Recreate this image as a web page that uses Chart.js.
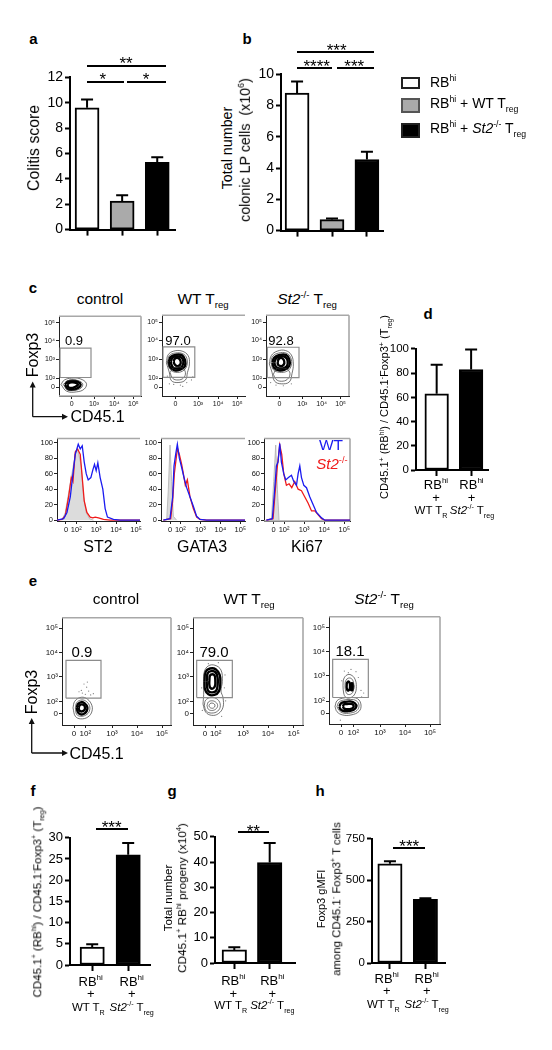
<!DOCTYPE html>
<html><head><meta charset="utf-8">
<style>
html,body{margin:0;padding:0;background:#fff;width:552px;height:1050px;overflow:hidden}
body{position:relative;font-family:"Liberation Sans",Arial,sans-serif;color:#000;filter:blur(.3px)}
canvas{position:absolute;display:block}
.t{position:absolute;white-space:nowrap;line-height:1;transform-origin:center center}
sup,sub{font-size:.62em;line-height:0}
.line{position:absolute;background:#000}
</style>
<script src="https://cdn.jsdelivr.net/npm/chart.js@4"></script>
</head><body>
<script>
// ---------- bar panels ----------
const legendLabels=['RB<sup>hi</sup>','RB<sup>hi</sup> + WT T<sub>reg</sub>','RB<sup>hi</sup> + <i>St2</i><sup>-/-</sup> T<sub>reg</sub>'];
const threeColors=['#ffffff','#aaaaaa','#000000'];
const twoColors=['#ffffff','#000000'];
const aValues=[9.6,2.25,5.3];      const aUpper=[10.25,2.7,5.7];
const bValues=[8.8,0.7,4.55];      const bUpper=[9.55,0.78,5.05];
const dValues=[63,83];             const dUpper=[87,99.5];
const fValues=[4.2,26];            const fUpper=[4.9,28.8];
const gValues=[5.2,39.8];          const gUpper=[6.2,47.5];
const hValues=[600,385];           const hUpper=[615,392];
const aTicks=[0,2,4,6,8,10,12];
const bTicks=[0,2,4,6,8,10];
const dTicks=[0,20,40,60,80,100];
const fTicks=[0,5,10,15,20,25,30];
const gTicks=[0,10,20,30,40,50];
const hTicks=[0,250,500,750];
const pairCategories=[['RB<sup>hi</sup>','+','WT T<sub>R</sub>'],['RB<sup>hi</sup>','+','<i>St2</i><sup>-/-</sup> T<sub>reg</sub>']];

// ---------- flow tick labels ----------
const flowLabelsY=['0','10²','10³','10⁴','10⁵'];
const flowLabelsX3=['0','10³','10⁴','10⁵'];
const flowLabelsX4=['0','10²','10³','10⁴','10⁵'];
const histLabelsY=['0','20','40','60','80','100'];
const histTicksY=[0,20,40,60,80,100];
const cYTicks=[0,28,87,145,202];
const cControlXTicks=[0,67,128,185];
const cWtXTicks=[0,68,128,185];
const cSt2XTicks=[0,69,127,184];
const eControlXTicks=[0,34,114,189,264];
const eWtXTicks=[0,32,114,189,266];
const eSt2XTicks=[0,37,117,192,267];
const eYTicks=[0,37,115,190,265];

// ---------- gates ----------
const cControlGate=[[-35,30],[58,30],[58,122],[-35,122],[-35,30]];
const cWtGate=[[-37,30],[58,30],[58,125],[-37,125],[-37,30]];
const cSt2Gate=[[-36,29],[59,29],[59,124],[-36,124],[-36,29]];
const eControlGate=[[-24,48],[81,48],[81,165],[-24,165],[-24,48]];
const eWtGate=[[-25,50],[82,50],[82,165],[-25,165],[-25,50]];
const eSt2Gate=[[-25,48],[82,48],[82,166],[-25,166],[-25,48]];

// ---------- contour rings (channel units) ----------
const cControlThin=[
 [[-32,8],[-22,22],[0,28],[25,26],[44,12],[38,-6],[15,-15],[-15,-13]],
 [[-25,8],[-15,18],[0,22],[20,20],[33,10],[28,-3],[10,-10],[-12,-9]]];
const cControlThick=[
 [[-20,8],[-12,17],[2,20],[18,17],[27,8],[20,-2],[5,-8],[-12,-6]],
 [[-13,8],[-6,14],[3,15],[13,13],[19,7],[11,1],[2,-3],[-9,-1]]];
const cWtThin=[
 [[-27,75],[-22,100],[-5,112],[20,112],[38,98],[42,72],[36,45],[30,22],[8,14],[-12,20],[-18,45]],
 [[-16,45],[-8,27],[8,22],[24,28],[30,45],[20,60],[-5,60]],
 [[-24,78],[-18,98],[0,106],[22,104],[34,90],[34,66],[22,50],[0,46],[-16,56]]];
const cWtThick=[
 [[-20,78],[-14,94],[2,101],[20,99],[29,84],[28,64],[14,54],[-2,52],[-16,62]],
 [[-14,80],[-8,92],[4,96],[18,92],[24,80],[20,64],[8,58],[-6,60],[-12,70]],
 [[-5,80],[-2,88],[6,91],[14,85],[16,74],[10,66],[3,66],[-3,72]]];
const cWtDots=[[-18,10],[-5,8],[15,6],[34,14],[48,22],[52,32],[-24,34],[22,2]];
const cSt2Thin=[
 [[-30,72],[-24,98],[-6,112],[18,114],[36,100],[42,72],[38,42],[30,16],[6,10],[-14,18],[-22,46]],
 [[-18,40],[-10,24],[6,18],[24,24],[32,42],[22,56],[-6,58]],
 [[-25,76],[-20,96],[-2,106],[20,106],[34,92],[36,68],[24,50],[0,46],[-18,54]]];
const cSt2Thick=[
 [[-21,76],[-15,92],[0,100],[20,100],[30,86],[30,66],[16,54],[-2,52],[-16,60]],
 [[-15,78],[-9,90],[3,96],[17,94],[25,82],[22,64],[10,58],[-6,60],[-13,68]],
 [[-5,78],[-2,87],[6,91],[13,85],[15,74],[9,66],[2,66],[-4,70]]];
const cSt2Dots=[[-26,14],[-10,6],[12,4],[36,10],[-30,30]];
const eControlThin=[
 [[-3,18],[2,38],[18,50],[36,48],[52,30],[54,8],[42,-10],[20,-16],[4,-8]],
 [[4,18],[8,34],[20,42],[34,40],[46,26],[46,8],[36,-4],[20,-8],[8,-2]]];
const eControlThick=[
 [[8,18],[12,30],[22,36],[32,32],[40,20],[38,8],[30,0],[20,-2],[12,4]],
 [[14,18],[17,26],[23,29],[30,26],[33,18],[30,10],[22,7],[16,10]]];
const eControlDots=[[22,72],[30,92],[38,82],[25,64],[44,70],[50,58],[15,68],[34,60],[58,62],[40,98]];
const eWtThin=[
 [[-6,30],[-4,60],[-4,100],[-2,130],[10,148],[30,150],[48,135],[52,100],[48,70],[54,50],[54,20],[40,0],[20,-5],[2,5]],
 [[-2,25],[2,42],[18,50],[38,44],[46,25],[38,8],[20,2],[4,8]],
 [[6,25],[10,36],[20,40],[32,36],[38,25],[32,14],[20,10],[10,14]],
 [[12,25],[15,31],[21,33],[28,30],[30,24],[26,18],[20,17],[14,20]]];
const eWtThick=[
 [[-2,100],[2,130],[15,140],[32,138],[44,120],[46,95],[42,70],[28,58],[10,60],[0,75]],
 [[5,100],[8,125],[18,132],[32,128],[38,110],[38,90],[34,72],[22,66],[10,70],[6,85]],
 [[13,102],[15,118],[22,122],[29,118],[31,100],[30,86],[24,78],[16,80],[13,90]]];
const eWtDots=[[10,155],[40,158],[60,120],[58,80],[-10,80],[62,40],[50,-8],[-8,10]];
const eSt2Thin=[
 [[6,85],[8,105],[18,118],[30,118],[42,105],[46,82],[42,60],[30,48],[15,48],[8,62]],
 [[12,85],[14,100],[22,108],[32,106],[38,92],[38,74],[32,60],[20,58],[14,68]],
 [[-18,20],[-12,38],[5,46],[25,48],[50,44],[60,25],[54,5],[30,-6],[5,-6],[-12,4]],
 [[-12,20],[-6,34],[8,40],[28,42],[46,38],[54,24],[48,8],[28,0],[6,0],[-6,8]]];
const eSt2Thick=[
 [[17,85],[18,93],[24,97],[27,88],[26,74],[20,70],[17,78]],
 [[30,85],[31,92],[35,91],[36,76],[32,70],[29,76]],
 [[-5,20],[0,30],[10,34],[28,36],[42,30],[46,20],[38,10],[24,6],[8,6],[-2,12]],
 [[6,20],[9,27],[18,28],[32,28],[38,20],[30,13],[16,12],[9,14]]];
const eSt2Dots=[[10,130],[30,135],[45,128],[52,110],[60,70],[68,62],[2,100],[62,50],[-2,-22],[22,125]];

// ---------- histograms ----------
const st2Grey=[[-12,0],[-2,10],[8,35],[18,60],[28,85],[35,92],[46,70],[53,30],[61,10],[71,2],[83,0]];
const st2Red=[[-27,0],[-12,1],[-2,6],[8,30],[16,55],[21,50],[28,88],[35,92],[43,85],[48,60],[55,25],[63,10],[73,4],[81,3],[88,4],[98,3],[113,1],[133,0],[223,0]];
const st2Blue=[[-27,0],[-7,2],[3,10],[13,30],[21,60],[28,85],[37,98],[43,92],[49,96],[55,75],[61,60],[67,52],[75,55],[81,65],[86,72],[91,64],[96,74],[103,55],[111,40],[118,15],[125,4],[143,1],[163,0],[223,0]];
const gataGrey=[[-10,0],[-5,40],[0,97],[5,50],[10,5],[20,0]];
const gataRed=[[-20,0],[2,2],[8,25],[13,60],[20,85],[23,92],[28,85],[35,72],[40,60],[46,45],[52,52],[60,30],[70,15],[80,4],[90,1],[110,0],[225,0]];
const gataBlue=[[-20,0],[0,2],[8,30],[12,70],[17,85],[22,98],[28,80],[35,68],[42,55],[50,42],[60,30],[70,18],[80,5],[90,1],[110,0],[225,0]];
const kiGrey=[[-7,0],[0,50],[6,97],[11,40],[16,0]];
const kiRed=[[-22,0],[-2,2],[5,40],[11,70],[18,97],[24,85],[30,60],[38,45],[46,47],[54,42],[63,50],[73,40],[83,38],[93,30],[103,22],[113,12],[123,12],[133,7],[143,2],[153,0],[228,0]];
const kiBlue=[[-22,0],[-4,2],[3,40],[8,70],[13,75],[18,99],[23,75],[30,60],[36,52],[44,55],[53,58],[60,50],[68,45],[73,60],[78,70],[83,55],[90,45],[98,42],[108,30],[116,22],[128,10],[143,3],[153,0],[228,0]];
const histXTicks=[0,31,91,151,211];
const histXLabels=['0','10²','10³','10⁴','10⁵'];

// ---------- helpers ----------
const FONT='"Liberation Sans",Arial,sans-serif';
Chart.defaults.font.family=FONT;
function txt(html,x,y,o={}){
  const d=document.createElement('div');d.className='t';d.innerHTML=html;
  d.style.left=x+'px';d.style.top=y+'px';d.style.fontSize=(o.size||13)+'px';
  if(o.bold)d.style.fontWeight='bold'; if(o.color)d.style.color=o.color;
  d.style.transform='translate(-50%,-50%)'+(o.rot?' rotate(-90deg)':'');
  document.body.appendChild(d);return d;
}
const stars=(s,x,y)=>txt(s,x,y+4,{size:17});
function hline(x0,x1,y,h=2){const d=document.createElement('div');d.className='line';
  d.style.cssText+=`left:${x0}px;top:${y-h/2}px;width:${x1-x0}px;height:${h}px`;document.body.appendChild(d);}
function box(x,y,w,h,bg,bd){const d=document.createElement('div');
  d.style.cssText=`position:absolute;left:${x}px;top:${y}px;width:${w}px;height:${h}px;background:${bg};border:2px solid ${bd};box-sizing:border-box`;document.body.appendChild(d);}
function arrows(ox,oy,top,right){
  const s=document.createElementNS('http://www.w3.org/2000/svg','svg');
  s.setAttribute('width',552);s.setAttribute('height',1050);s.style.cssText='position:absolute;left:0;top:0;pointer-events:none';
  s.innerHTML=`<path d="M${ox} ${oy}V${top+5}M${ox} ${oy}H${right-5}" stroke="#111" stroke-width="1.3" fill="none"/>
  <path d="M${ox} ${top}l-3 6h6zM${right} ${oy}l-6 -3v6z" fill="#111"/>`;
  document.body.appendChild(s);
}
function makeCanvas(x0,y0,x1,y1,L,T,R,B){
  const c=document.createElement('canvas');c.width=Math.round(x1-x0+L+R);c.height=Math.round(y1-y0+T+B);
  c.style.left=(x0-L)+'px';c.style.top=(y0-T)+'px';document.body.appendChild(c);return c.getContext('2d');
}
const errorBars={id:'errorBars',afterDatasetsDraw(ch,a,o){
  const m=ch.getDatasetMeta(0),y=ch.scales.y,c=ch.ctx;c.save();c.strokeStyle='#000';c.lineWidth=2;
  m.data.forEach((b,i)=>{const t=y.getPixelForValue(o.upper[i]);c.beginPath();
    c.moveTo(b.x,b.y);c.lineTo(b.x,t);c.moveTo(b.x-6,t);c.lineTo(b.x+6,t);c.stroke();});c.restore();}};
const frame={id:'frame',beforeDatasetsDraw(ch,a,o){
  const r=ch.chartArea,c=ch.ctx;c.save();c.strokeStyle='#a8a8a8';c.lineWidth=1.6;c.beginPath();
  if(o.sides.includes('t')){c.moveTo(r.left,r.top);c.lineTo(r.right,r.top);}
  if(o.sides.includes('r')){c.moveTo(r.right,r.top);c.lineTo(r.right,r.bottom);}
  if(o.sides.includes('b')){c.moveTo(r.left,r.bottom);c.lineTo(r.right,r.bottom);}
  c.stroke();c.restore();}};
function barChart(rect,values,upper,colors,ticks,xmin,xmax,thick,fontSize){
  const [x0,y0,x1,y1]=rect,L=38,T=6,R=4,B=10;
  new Chart(makeCanvas(x0,y0,x1,y1,L,T,R,B),{type:'bar',
   data:{datasets:[{data:values.map((v,i)=>({x:i,y:v})),backgroundColor:colors,borderColor:'#000',borderWidth:2,borderSkipped:false,barThickness:thick}]},
   plugins:[errorBars],
   options:{responsive:false,animation:false,layout:{autoPadding:false,padding:{top:T,right:R}},
    plugins:{legend:{display:false},tooltip:{enabled:false},errorBars:{upper}},
    scales:{
     x:{type:'linear',offset:false,min:xmin,max:xmax,afterBuildTicks:s=>{s.ticks=values.map((v,i)=>({value:i}))},afterFit:s=>{s.height=B},
        ticks:{display:false},grid:{offset:false,drawOnChartArea:false,tickLength:6,tickWidth:2,tickColor:'#000'},border:{color:'#000',width:2}},
     y:{min:ticks[0],max:ticks[ticks.length-1],afterBuildTicks:s=>{s.ticks=ticks.map(v=>({value:v}))},afterFit:s=>{s.width=L},
        ticks:{color:'#000',font:{size:fontSize},padding:2,autoSkip:false},grid:{drawOnChartArea:false,tickLength:5,tickWidth:2,tickColor:'#000'},border:{color:'#000',width:2}}
    }}});
}
const closed=r=>r.concat([r[0]]).map(p=>({x:p[0],y:p[1]}));
const asPts=r=>r.map(p=>({x:p[0],y:p[1]}));
function flowChart(rect,xr,yr,xTicks,xLabels,yTicks,yLabels,gate,thin,thick,dots,sides,size){
  const [x0,y0,x1,y1]=rect,L=22,T=2,R=8,B=16;
  const ds=[];
  ds.push({data:asPts(gate),showLine:true,borderColor:'#8c8c8c',borderWidth:1.2,pointRadius:0,tension:0});
  thin.forEach(r=>ds.push({data:closed(r),showLine:true,borderColor:'#3a3a3a',borderWidth:.7,pointRadius:0,tension:.4}));
  thick.forEach(r=>ds.push({data:closed(r),showLine:true,borderColor:'#000',borderWidth:2.4,pointRadius:0,tension:.4}));
  if(dots&&dots.length)ds.push({data:asPts(dots),showLine:false,pointRadius:.6,pointBackgroundColor:'#777',pointBorderWidth:0});
  new Chart(makeCanvas(x0,y0,x1,y1,L,T,R,B),{type:'scatter',data:{datasets:ds},plugins:[frame],
   options:{responsive:false,animation:false,layout:{autoPadding:false,padding:{top:T,right:R}},
    plugins:{legend:{display:false},tooltip:{enabled:false},frame:{sides}},
    scales:{
     x:{type:'linear',min:xr[0],max:xr[1],afterBuildTicks:s=>{s.ticks=xTicks.map(v=>({value:v}))},afterFit:s=>{s.height=B},
        ticks:{color:'#111',font:{size},padding:1,autoSkip:false,maxRotation:0,callback:(v,i)=>xLabels[i]},grid:{drawOnChartArea:false,tickLength:3,tickWidth:1,tickColor:'#222'},border:{color:'#222',width:1}},
     y:{type:'linear',min:yr[0],max:yr[1],afterBuildTicks:s=>{s.ticks=yTicks.map(v=>({value:v}))},afterFit:s=>{s.width=L},
        ticks:{color:'#111',font:{size},padding:1,autoSkip:false,callback:(v,i)=>yLabels[i]},grid:{drawOnChartArea:false,tickLength:3,tickWidth:1,tickColor:'#222'},border:{color:'#222',width:1}}
    }}});
}
function histChart(rect,xr,grey,red,blue,sides){
  const [x0,y0,x1,y1]=rect,L=22,T=2,R=6,B=16;
  new Chart(makeCanvas(x0,y0,x1,y1,L,T,R,B),{type:'scatter',
   data:{datasets:[
    {data:asPts(blue),showLine:true,borderColor:'#1b1bf0',borderWidth:1.3,pointRadius:0,tension:0},
    {data:asPts(red),showLine:true,borderColor:'#f01b1b',borderWidth:1.3,pointRadius:0,tension:0},
    {data:asPts(grey),showLine:true,borderColor:'#b0b0b0',borderWidth:.8,backgroundColor:'#dcdcdc',fill:'origin',pointRadius:0,tension:0}
   ]},plugins:[frame],
   options:{responsive:false,animation:false,layout:{autoPadding:false,padding:{top:T,right:R}},
    plugins:{legend:{display:false},tooltip:{enabled:false},frame:{sides},filler:{drawTime:'beforeDatasetsDraw'}},
    scales:{
     x:{type:'linear',min:xr[0],max:xr[1],afterBuildTicks:s=>{s.ticks=histXTicks.map(v=>({value:v}))},afterFit:s=>{s.height=B},
        ticks:{color:'#111',font:{size:7.5},padding:1,autoSkip:false,maxRotation:0,callback:(v,i)=>histXLabels[i]},grid:{drawOnChartArea:false,tickLength:3,tickWidth:1,tickColor:'#222'},border:{color:'#222',width:1}},
     y:{type:'linear',min:-1,max:105.4,afterBuildTicks:s=>{s.ticks=histTicksY.map(v=>({value:v}))},afterFit:s=>{s.width=L},
        ticks:{color:'#111',font:{size:7.5},padding:1,autoSkip:false,callback:(v,i)=>histLabelsY[i]},grid:{drawOnChartArea:false,tickLength:3,tickWidth:1,tickColor:'#222'},border:{color:'#222',width:1}}
    }}});
}
function pairLabels(cx1,cx2,third,y1,y2,y3){
  pairCategories.forEach((c,i)=>{const x=i?cx2:cx1;
    txt(c[0],x,y1,{size:13});txt(c[1],x,y2,{size:13});txt(c[2],third[i],y3,{size:11.5});});
}

// ---------- panel letters ----------
[['a',33.3,38],['b',247,38],['c',33,287],['d',428,313],['e',33,580],['f',33,790],['g',172,790],['h',320,790]]
  .forEach(p=>txt(p[0],p[1],p[2],{size:15,bold:true}));

// ---------- panel a ----------
barChart([70,72.7,174.7,230],aValues,aUpper,threeColors,aTicks,-0.486,2.506,24,14);
txt('Colitis score',34,148,{size:15.8,rot:true});
hline(87.3,166,65.7);hline(87.3,124,81.7);hline(127.3,166,81.7);
stars('**',126,59.3);stars('*',102.7,75);stars('*',146,75);

// ---------- panel b ----------
barChart([280.7,70,383,231],bValues,bUpper,threeColors,bTicks,-0.46,2.46,24,14);
txt('Total number',227.3,148,{size:14.3,rot:true});
txt('colonic LP cells&nbsp; (x10<sup>6</sup>)',245,150.3,{size:14.3,rot:true});
hline(296.7,374.5,52.3);hline(296.7,332.3,67.7);hline(336.7,374.5,67.7);
stars('***',336.7,45.7);stars('****',316.7,62.3);stars('***',354.3,62.3);

// ---------- legend ----------
box(400.7,76.8,19.5,12.2,threeColors[0],'#222');
box(400.7,97.7,19.5,15.2,threeColors[1],'#555');
box(400.7,122.5,19.5,15.8,threeColors[2],'#222');
const legendX=[430,430,430],legendY=[82,103.3,128.3];
legendLabels.forEach((l,i)=>{const d=txt(l,legendX[i],legendY[i],{size:14});d.style.transform='translate(0,-50%)';});

// ---------- panel c ----------
txt('control',100,299,{size:15.5});
txt('WT T<sub>reg</sub>',203,299,{size:15.5});
txt('<i>St2</i><sup>-/-</sup> T<sub>reg</sub>',307,299,{size:15.5});
flowChart([59,312.7,141,396],[-38,208],[-28,222],cControlXTicks,flowLabelsX3,cYTicks,flowLabelsY,cControlGate,cControlThin,cControlThick,[],'trb',7);
flowChart([162,312,245,396],[-40,208],[-28,224],cWtXTicks,flowLabelsX3,cYTicks,flowLabelsY,cWtGate,cWtThin,cWtThick,cWtDots,'t',7);
flowChart([266,312,349,396],[-40,209],[-28,224],cSt2XTicks,flowLabelsX3,cYTicks,flowLabelsY,cSt2Gate,cSt2Thin,cSt2Thick,cSt2Dots,'tr',7);
txt('0.9',74,340,{size:13});txt('97.0',178,340,{size:13});txt('92.8',281,339.5,{size:13});
arrows(32.7,416.7,381.5,68);
txt('Foxp3',33,355,{size:16,rot:true});
txt('CD45.1',97.5,417,{size:16});
histChart([56.7,435,140,520.7],[-27,223],st2Grey,st2Red,st2Blue,'t');
histChart([161,435,245,520.7],[-27,225],gataGrey,gataRed,gataBlue,'t');
histChart([264.3,435,350,520.7],[-29,228],kiGrey,kiRed,kiBlue,'trb');
txt('ST2',98,547,{size:16});txt('GATA3',202,547,{size:16});txt('Ki67',307,547,{size:16});
txt('WT',331,445,{size:15.5,color:'#1b1bf0'});
txt('<i>St2</i><sup>-/-</sup>',332,463,{size:15,color:'#f01b1b'});

// ---------- panel d ----------
barChart([415.7,345.7,488,470],dValues,dUpper,twoColors,dTicks,-0.6,1.49,23.6,11.5);
txt('CD45.1<sup>+</sup> (RB<sup>hi</sup>) / CD45.1<sup>-</sup>Foxp3<sup>+</sup> (T<sub>reg</sub>)',385,407,{size:11.1,rot:true});
pairLabels(436,471.5,[431,472],484,497,511);

// ---------- panel e ----------
txt('control',116,599,{size:15.5});
txt('WT T<sub>reg</sub>',249,599,{size:15.5});
txt('<i>St2</i><sup>-/-</sup> T<sub>reg</sub>',384,599,{size:15.5});
flowChart([61.7,614.3,170.7,725],[-36,291],[-35,297],eControlXTicks,flowLabelsX4,eYTicks,flowLabelsY,eControlGate,eControlThin,eControlThick,eControlDots,'tr',8);
flowChart([193.3,614.3,303.3,725],[-36,294],[-35,297],eWtXTicks,flowLabelsX4,eYTicks,flowLabelsY,eWtGate,eWtThin,eWtThick,eWtDots,'tr',8);
flowChart([329,613.3,440,724],[-36,297],[-34,298],eSt2XTicks,flowLabelsX4,eYTicks,flowLabelsY,eSt2Gate,eSt2Thin,eSt2Thick,eSt2Dots,'tr',8);
txt('0.9',82,651,{size:15});txt('79.0',214,651,{size:15});txt('18.1',350,650,{size:15});
arrows(31.7,753,718,68);
txt('Foxp3',32.3,692,{size:16,rot:true});
txt('CD45.1',96.5,754,{size:16});

// ---------- panel f ----------
barChart([70,834.3,150,965.7],fValues,fUpper,twoColors,fTicks,-0.617,1.606,24.3,13);
txt('CD45.1<sup>+</sup> (RB<sup>hi</sup>) / CD45.1<sup>-</sup>Foxp3<sup>+</sup> (T<sub>reg</sub>)',38.3,901.7,{size:11.5,rot:true});
hline(96,128.3,829);stars('***',111.7,823.3);
pairLabels(90.7,131.7,[88.3,131.7],980.7,993.3,1008);

// ---------- panel g ----------
barChart([215,833.3,295,963.3],gValues,gUpper,twoColors,gTicks,-0.545,1.715,24.5,13);
txt('Total number',169,898,{size:11.5,rot:true});
txt('CD45.1<sup>+</sup> RB<sup>hi</sup> progeny (x10<sup>4</sup>)',183.3,897.7,{size:11.8,rot:true});
hline(237.7,269.3,832);stars('**',253.3,826.7);
pairLabels(233.3,272.3,[230.7,272.3],980,993,1005.7);

// ---------- panel h ----------
barChart([371.7,836,445,963.3],hValues,hUpper,twoColors,hTicks,-0.506,1.553,24.3,11.5);
txt('Foxp3 gMFI',321,899,{size:11,rot:true});
txt('among CD45.1<sup>-</sup> Foxp3<sup>+</sup> T cells',336.7,899.3,{size:11.4,rot:true});
hline(392.7,425,847.7);stars('***',409.3,841.7);
pairLabels(386.7,426.7,[383.3,426.7],977.7,990,1005);
</script>
</body></html>
